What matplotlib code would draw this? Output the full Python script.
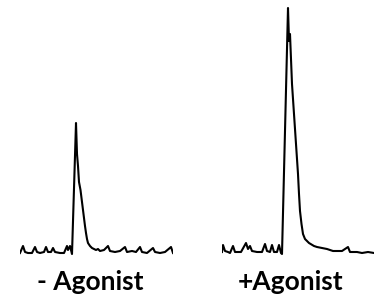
import matplotlib
matplotlib.use('Agg')
import matplotlib.pyplot as plt

# trace without agonist: time (samples) and signal height (a.u.)
t_minus = [0, 3, 5, 8, 12, 15, 17, 20, 24, 26, 28, 31, 33, 35, 40, 44, 47, 48, 50, 51.5, 52,
           56, 57, 58, 59, 60.5, 62, 63, 64, 65, 66, 67, 68, 70, 72, 74, 76, 78, 80, 84, 88, 90,
           95, 100, 105, 107, 112, 116, 120, 122, 127, 133, 135, 140, 145, 151, 153]
s_minus = [1, 8, 2, 1, 1, 7, 2, 1, 2, 7, 2, 2, 6, 2, 1, 1, 8, 4, 8, 2, 0,
           131, 100, 88, 72, 64, 52, 44, 36, 28, 21, 15, 11, 8, 6, 5, 4, 5, 3, 4, 8, 3,
           2, 3, 7, 2, 3, 2, 7, 2, 1, 6, 2, 1, 2, 7, 1]

# trace with agonist
t_plus = [0, 1, 3, 6, 8, 11, 13, 16, 19, 24, 26, 28, 30, 35, 40, 43, 45, 48, 50, 52, 55, 57,
          59, 60, 66, 67, 68, 70, 72, 74, 76, 77, 78, 79.5, 81, 83, 87, 92, 95, 100, 105, 111,
          120, 126, 128, 135, 140, 146, 152]
s_plus = [2, 9, 3, 2, 1, 8, 2, 2, 2, 11, 5, 8, 3, 2, 2, 10, 3, 2, 9, 2, 2, 9,
          1, 0, 246, 213, 220, 170, 140, 110, 80, 60, 43, 30, 20, 15, 11, 8, 7, 6, 5, 3,
          3, 7, 2, 2, 1, 2, 1]

labels = ['- Agonist', '+Agonist']

W, H = 374, 298
fig = plt.figure(figsize=(W / 100, H / 100), dpi=100)

ax1 = fig.add_axes([20 / W, 42 / H, 153 / W, 252 / H])
ax2 = fig.add_axes([222 / W, 42 / H, 152 / W, 252 / H])

for ax, t, s in [(ax1, t_minus, s_minus), (ax2, t_plus, s_plus)]:
    ax.plot(t, s, color='black', lw=1.5)
    ax.set_ylim(-2, 250)
    ax.set_xlim(0, max(t))
    ax.axis('off')

fig.text(90 / W, (H - 282) / H, labels[0], ha='center', va='center',
         fontsize=19, fontweight='bold', family='Lato')
fig.text(291 / W, (H - 282) / H, labels[1], ha='center', va='center',
         fontsize=19, fontweight='bold', family='Lato')

fig.savefig('out.png', dpi=100)
